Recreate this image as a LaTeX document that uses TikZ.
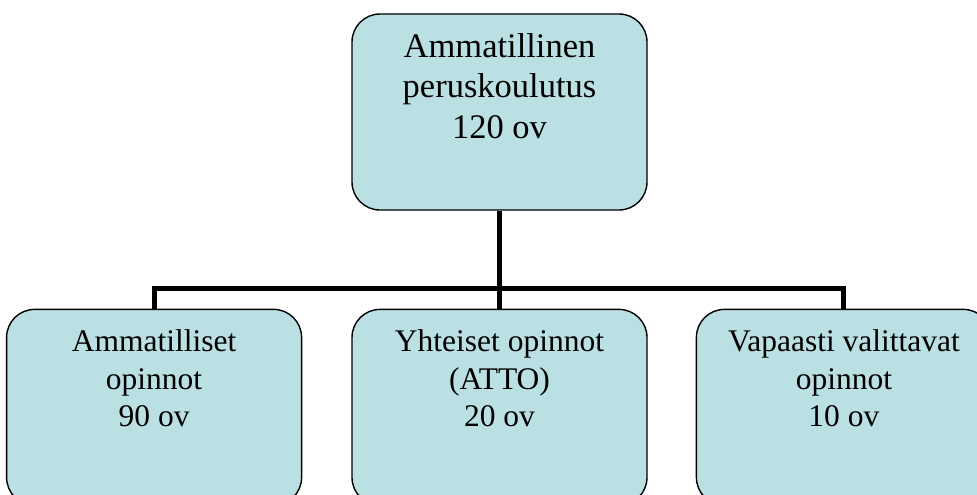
\documentclass[tikz,border=0pt]{standalone}
\usepackage{fontspec}
\setmainfont{Liberation Serif}
\usetikzlibrary{positioning}
\definecolor{boxfill}{RGB}{187,224,227}
\begin{document}
\begin{tikzpicture}[x=1pt, y=-1pt,
    box/.style={draw, line width=1.4pt, fill=boxfill, rounded corners=28pt,
        minimum width=295pt, minimum height=196pt, inner sep=0pt},
    txt/.style={align=center, inner sep=0pt, font=\fontsize{31.5}{37.5}\selectfont},
    conn/.style={line width=5pt, line join=miter}]
    \clip (0,0) rectangle (977,495);
    % Tree structure
    \node[box] (root) at (499.5,112) {};
    \node[box, below=98pt of root] (yhteis) {};
    \node[box, left=49pt of yhteis] (ammat) {};
    \node[box, right=48pt of yhteis] (vapaa) {};
    \coordinate (bar) at (0,288);

    \draw[conn] (root.south) -- (yhteis.north);
    \draw[conn] (ammat.north) -- (ammat.north |- bar) -- (vapaa.north |- bar) -- (vapaa.north);

    \node[txt, font=\fontsize{34.5}{40.5}\selectfont, below=20pt of root.north] (roottxt)
        {Ammatillinen\\peruskoulutus\\120 ov};
    \node[txt, below=21pt of ammat.north] (ammattxt) {Ammatilliset\\opinnot\\90 ov};
    \node[txt, below=21pt of yhteis.north] (yhteistxt) {Yhteiset opinnot\\(ATTO)\\20 ov};
    \node[txt, below=21pt of vapaa.north] (vapaatxt) {Vapaasti valittavat\\opinnot\\10 ov};
\end{tikzpicture}
\end{document}
